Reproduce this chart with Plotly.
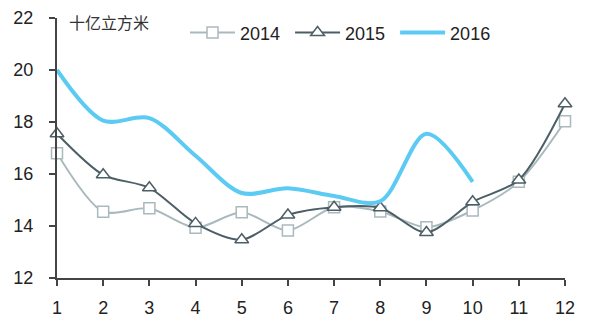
import plotly.graph_objects as go

months = [1, 2, 3, 4, 5, 6, 7, 8, 9, 10, 11, 12]
y2014 = [16.8, 14.55, 14.68, 13.93, 14.53, 13.83, 14.72, 14.56, 13.95, 14.6, 15.7, 18.03]
y2015 = [17.55, 15.97, 15.47, 14.1, 13.47, 14.42, 14.72, 14.7, 13.75, 14.93, 15.77, 18.7]
months2016 = [1, 2, 3, 4, 5, 6, 7, 8, 9, 10]
y2016 = [20.0, 18.05, 18.15, 16.7, 15.27, 15.45, 15.15, 14.95, 17.55, 15.7]
y_ticks = [12, 14, 16, 18, 20, 22]
unit_label = "十亿立方米"
pad = "\u00a0"

fig = go.Figure()
fig.add_trace(go.Scatter(
    x=months, y=y2014, name="2014" + pad, mode="lines+markers", cliponaxis=False,
    line=dict(color="#a9b9bd", width=2, shape="spline", smoothing=0.8),
    marker=dict(symbol="square", size=11, color="white",
                line=dict(color="#a9b9bd", width=1.5)),
))
fig.add_trace(go.Scatter(
    x=months, y=y2015, name="2015" + pad, mode="lines+markers", cliponaxis=False,
    line=dict(color="#4d5f66", width=2, shape="spline", smoothing=0.8),
    marker=dict(symbol="triangle-up", size=12, color="white",
                line=dict(color="#4d5f66", width=1.5)),
))
fig.add_trace(go.Scatter(
    x=months2016, y=y2016, name="2016", mode="lines", cliponaxis=False,
    line=dict(color="#5ccbf3", width=4, shape="spline", smoothing=0.9),
))

fig.update_layout(
    width=600, height=319,
    margin=dict(l=49, r=43, t=10, b=49, autoexpand=False),
    paper_bgcolor="white", plot_bgcolor="white",
    font=dict(family="Liberation Sans, Arial, sans-serif", size=18, color="#222"),
    showlegend=True,
    legend=dict(orientation="h", x=0.252, y=0.943, xanchor="left", yanchor="middle",
                font=dict(size=18, color="#222"), bgcolor="rgba(0,0,0,0)",
                itemwidth=45, tracegroupgap=0),
    xaxis=dict(range=[1, 12], tickvals=months, showgrid=False, zeroline=False,
               showline=True, linecolor="#444", linewidth=2, automargin=False,
               ticks="outside", ticklen=6, tickcolor="#444", tickwidth=1.5,
               ticklabelstandoff=6, ticklabeloverflow="allow"),
    yaxis=dict(range=[12, 22], tickvals=y_ticks, showgrid=False, zeroline=False,
               showline=True, linecolor="#444", linewidth=2, automargin=False,
               ticks="outside", ticklen=6, tickcolor="#444", tickwidth=1.5,
               ticklabelstandoff=12, ticklabeloverflow="allow"),
    annotations=[dict(text=unit_label, xref="paper", yref="paper", x=0.0217, y=0.985,
                      xanchor="left", yanchor="middle", showarrow=False, borderpad=0,
                      font=dict(family="Noto Sans CJK SC", size=16, color="#333"))],
)

fig.write_html("out.html")
